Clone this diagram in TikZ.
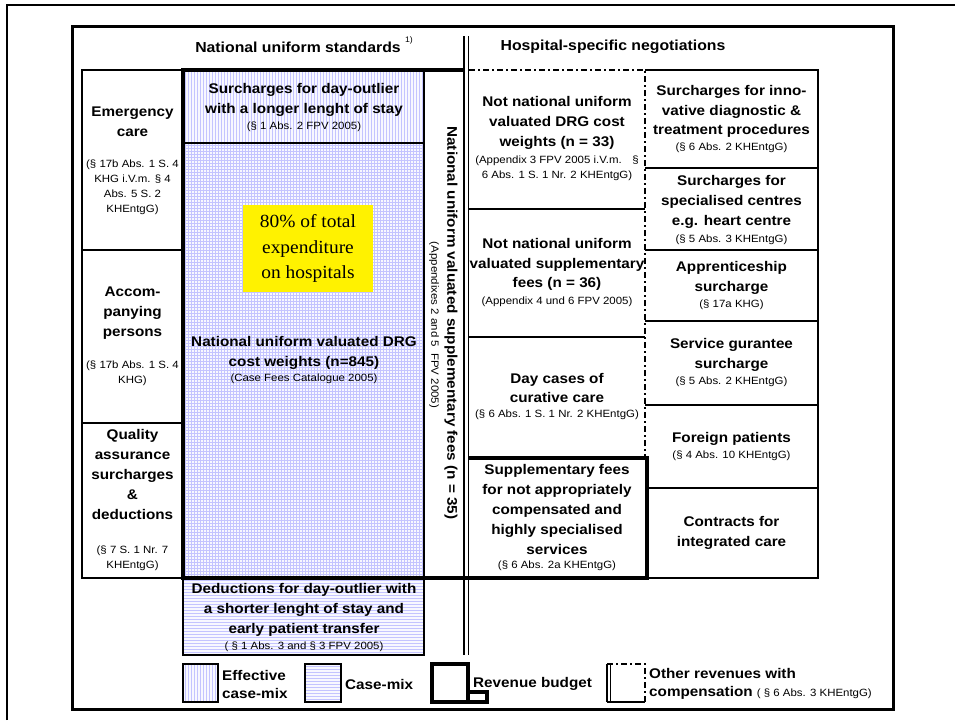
\documentclass[tikz,border=0pt]{standalone}
\usepackage{fontspec}
\setmainfont{Liberation Sans}[FakeStretch=1.09]
\newfontfamily\serifface{Liberation Serif}[FakeStretch=1.05]
\usepackage{xcolor}

\definecolor{hatchline}{RGB}{196,196,255}
\definecolor{hatchback}{RGB}{248,248,255}

\tikzset{
  cell/.style={draw, line width=1.3pt},
  budget/.style={draw, line width=3.4pt},
  hatch/.style={draw=hatchline, line width=0.45pt},
  title/.style={align=center, inner sep=0pt, font=\bfseries\fontsize{14}{19.8}\selectfont},
  lawref/.style={align=center, inner sep=0pt, font=\fontsize{10.5}{15}\selectfont},
  legend/.style={align=left, anchor=west, inner sep=0pt, font=\bfseries\fontsize{14}{18}\selectfont},
  othershare/.style={dash pattern=on 6pt off 3pt on 2pt off 3pt, line width=1.6pt}
}

\begin{document}
\begin{tikzpicture}[x=1pt, y=-1pt]
  % Fix the size of the page
  \useasboundingbox (0,0) rectangle (955,720);

  % Outer and inner frames
  \draw[line width=2pt] (7,720) -- (7,5) -- (955,5);
  \draw[line width=3pt] (72,26) rectangle (893,709);

  % Define the corners of the national block
  \coordinate (NW) at (183,70);
  \coordinate (NE) at (424,70);
  \coordinate (SW) at (183,578);
  \coordinate (SE) at (424,578);

  % Shaded case-mix areas
  \fill[hatchback] (NW) rectangle (424,655);
  \foreach \x in {185,188,...,422}
    \draw[hatch] (\x,70) -- (\x,578);
  \foreach \y in {145,148,...,576}
    \draw[hatch] (183,\y) -- (424,\y);
  \foreach \y in {580,583,...,653}
    \draw[hatch] (183,\y) -- (424,\y);
  \draw[cell] (NW) rectangle (424,143);
  \draw[cell] (183,143) rectangle (SE);
  \draw[cell] (SW) rectangle (424,655);
  \draw[cell] (NE) rectangle (464,578);

  % Left column
  \draw[cell] (82,70) rectangle (183,250);
  \draw[cell] (82,250) rectangle (183,423);
  \draw[cell] (82,423) rectangle (183,578);

  % Hospital-specific part
  \draw[cell] (469,209) -- (645,209);
  \draw[cell] (469,337) -- (645,337);
  \draw[othershare] (469,70) -- (645,70) -- (645,458);
  \draw[cell] (645,70) -- (818,70) -- (818,578) -- (645,578);
  \foreach \y in {168,250,321,405,488}
    \draw[cell] (645,\y) -- (818,\y);

  % Revenue budget outline
  \draw[budget] (464,70) -- (NW) -- (SW) -- (647,578) -- (647,458) -- (468,458);

  % Double line between the two parts
  \draw[line width=1.6pt] (464,36) -- (464,655);
  \draw[line width=0.8pt] (468.5,36) -- (468.5,655);

  % Headings
  \node[font=\bfseries\fontsize{14.5}{17}\selectfont] (national) at (298,47) {National uniform standards};
  \node[font=\fontsize{8}{9}\selectfont] (note) at (409,40) {1)};
  \node[font=\bfseries\fontsize{14.5}{17}\selectfont] (hospital) at (613,47) {Hospital-specific negotiations};

  % Label the left column
  \node[title] (emerg) at (132.5,121.5) {Emergency\\care};
  \node[lawref] (emergref) at (132.5,187) {(§ 17b Abs. 1 S. 4\\KHG i.V.m. § 4\\Abs. 5 S. 2\\KHEntgG)};
  \node[title] (accomp) at (132.5,313) {Accom-\\panying\\persons};
  \node[lawref] (accompref) at (132.5,373.5) {(§ 17b Abs. 1 S. 4\\KHG)};
  \node[title] (quality) at (132.5,474.5) {Quality\\assurance\\surcharges\\\&\\deductions};
  \node[lawref] (qualityref) at (132.5,558.5) {(§ 7 S. 1 Nr. 7\\KHEntgG)};

  % Label the national block
  \node[title] (longstay) at (304,100) {Surcharges for day-outlier\\with a longer lenght of stay};
  \node[lawref] (longstayref) at (304,127) {(§ 1 Abs. 2 FPV 2005)};
  \node[fill=yellow, align=center, minimum width=130pt, minimum height=87pt,
        font=\serifface\fontsize{18.5}{25.5}\selectfont] (share) at (308,248.5) {80\% of total\\expenditure\\on hospitals};
  \node[title] (drg) at (304,353) {National uniform valuated DRG\\cost weights (n=845)};
  \node[lawref] (drgref) at (304,379) {(Case Fees Catalogue 2005)};
  \node[title] (deduct) at (304,610) {Deductions for day-outlier with\\a shorter lenght of stay and\\early patient transfer};
  \node[lawref] (deductref) at (304,647) {( § 1 Abs. 3 and § 3 FPV 2005)};
  \node[title, rotate=-90] (suppl) at (451,323) {National uniform valuated supplementary fees (n = 35)};
  \node[lawref, rotate=-90] (supplref) at (434,325) {(Appendixes 2 and 5~ FPV 2005)};

  % Label the hospital-specific boxes
  \node[title] (notdrg) at (557,123) {Not national uniform\\valuated DRG cost\\weights (n = 33)};
  \node[lawref] (notdrgref) at (557,168) {(Appendix 3 FPV 2005 i.V.m. \ \ §\\6 Abs. 1 S. 1 Nr. 2 KHEntgG)};
  \node[title] (notsupp) at (557,264.5) {Not national uniform\\valuated supplementary\\fees (n = 36)};
  \node[lawref] (notsuppref) at (557,302) {(Appendix 4 und 6 FPV 2005)};
  \node[title] (daycase) at (557,388) {Day cases of\\curative care};
  \node[lawref] (daycaseref) at (557,415) {(§ 6 Abs. 1 S. 1 Nr. 2 KHEntgG)};
  \node[title] (special) at (557,509.5) {Supplementary fees\\for not appropriately\\compensated and\\highly specialised\\services};
  \node[lawref] (specialref) at (557,566) {(§ 6 Abs. 2a KHEntgG)};

  \node[title] (innov) at (731.5,111.5) {Surcharges for inno-\\vative diagnostic \&\\treatment procedures};
  \node[lawref] (innovref) at (731.5,148) {(§ 6 Abs. 2 KHEntgG)};
  \node[title] (centre) at (731.5,202) {Surcharges for\\specialised centres\\e.g. heart centre};
  \node[lawref] (centreref) at (731.5,240) {(§ 5 Abs. 3 KHEntgG)};
  \node[title] (apprent) at (731.5,278) {Apprenticeship\\surcharge};
  \node[lawref] (apprentref) at (731.5,305) {(§ 17a KHG)};
  \node[title] (service) at (731.5,355) {Service gurantee\\surcharge};
  \node[lawref] (serviceref) at (731.5,382) {(§ 5 Abs. 2 KHEntgG)};
  \node[title] (foreign) at (731.5,439) {Foreign patients};
  \node[lawref] (foreignref) at (731.5,456) {(§ 4 Abs. 10 KHEntgG)};
  \node[title] (contract) at (731.5,533) {Contracts for\\integrated care};

  % Legend
  \fill[hatchback] (183,664) rectangle (218,702);
  \foreach \x in {185,188,...,216}
    \draw[hatch] (\x,664) -- (\x,702);
  \draw[cell] (183,664) rectangle (218,702);
  \node[legend] (keyeff) at (222,684) {Effective\\case-mix};
  \fill[hatchback] (305,664) rectangle (341,702);
  \foreach \y in {666,669,...,700}
    \draw[hatch] (305,\y) -- (341,\y);
  \draw[cell] (305,664) rectangle (341,702);
  \node[legend] (keycase) at (345,684) {Case-mix};
  \draw[budget] (432,664) rectangle (468,702);
  \draw[budget] (468,692) rectangle (487,702);
  \node[legend] (keybudget) at (473,684) {Revenue budget};
  \draw[line width=1.6pt] (607,664) -- (607,702);
  \draw[line width=0.8pt] (610,664) -- (610,702);
  \draw[othershare] (607,664) -- (645,664) -- (645,702);
  \draw[line width=1.6pt] (607,702) -- (645,702);
  \node[legend] (keyother) at (649,673) {Other revenues with};
  \node[legend] (keyotherb) at (649,693) {compensation {\mdseries\fontsize{10.5}{15}\selectfont ( § 6 Abs. 3 KHEntgG)}};
\end{tikzpicture}
\end{document}
